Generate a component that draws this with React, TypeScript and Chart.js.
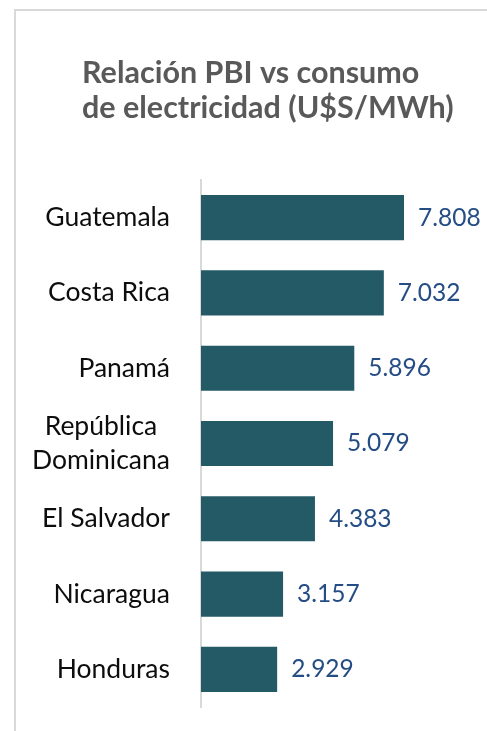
import { useEffect, useRef } from "react";
import { Chart, registerables } from "chart.js";
Chart.register(...registerables);

const titleLines = ["Relación PBI vs consumo", "de electricidad (U$S/MWh)"];
const categories: (string | string[])[] = [
  "Guatemala",
  "Costa Rica",
  "Panamá",
  ["República", "Dominicana"],
  "El Salvador",
  "Nicaragua",
  "Honduras",
];
const values = [7808, 7032, 5896, 5079, 4383, 3157, 2929];
const axisMax = 10000;

const fmt = (n: number) => n.toString().replace(/\B(?=(\d{3})+(?!\d))/g, ".");

const overlay = {
  id: "overlay",
  afterDraw(chart: any) {
    const ctx = chart.ctx as CanvasRenderingContext2D;
    ctx.save();
    ctx.font = "bold 30.5px Lato";
    ctx.fillStyle = "#595959";
    ctx.textAlign = "left";
    ctx.textBaseline = "alphabetic";
    titleLines.forEach((t, i) => ctx.fillText(t, 82, 83 + i * 35));

    const ys = chart.scales.y;
    ctx.font = "26.5px Lato";
    ctx.fillStyle = "#0d0d0d";
    ctx.textBaseline = "middle";
    ctx.textAlign = "center";
    categories.forEach((c, i) => {
      const lines = Array.isArray(c) ? c : [c];
      const w = Math.max(...lines.map((l) => ctx.measureText(l).width));
      const cx = chart.chartArea.left - 31 - w / 2;
      const yc = ys.getPixelForValue(i);
      lines.forEach((l, k) => ctx.fillText(l, cx, yc + (k - (lines.length - 1) / 2) * 34));
    });

    const meta = chart.getDatasetMeta(0);
    ctx.font = "24.5px Lato";
    ctx.fillStyle = "#254D85";
    ctx.textAlign = "left";
    meta.data.forEach((bar: any, i: number) => ctx.fillText(fmt(values[i]), bar.x + 14, bar.y));
    ctx.restore();
  },
};

export default function App() {
  const ref = useRef<HTMLCanvasElement>(null);
  useEffect(() => {
    if (!ref.current) return;
    const chart = new Chart(ref.current, {
      type: "bar",
      data: {
        labels: categories as any,
        datasets: [
          {
            data: values,
            backgroundColor: "#245A66",
            borderWidth: 0,
            barPercentage: 0.6,
            categoryPercentage: 1,
          },
        ],
      },
      options: {
        indexAxis: "y",
        animation: false,
        responsive: false,
        devicePixelRatio: 1,
        layout: { padding: { left: 201, top: 180, right: 26, bottom: 24 } },
        plugins: { legend: { display: false }, tooltip: { enabled: false }, title: { display: false } },
        scales: {
          x: { display: false, min: 0, max: axisMax },
          y: {
            grid: { display: false, drawTicks: false },
            border: { display: true, color: "#d9d9d9", width: 2 },
            ticks: { display: false },
          },
        },
      },
      plugins: [overlay],
    });
    return () => chart.destroy();
  }, []);
  return (
    <div style={{ position: "fixed", left: 0, top: 0, width: 487, height: 731, background: "#fff", overflow: "hidden" }}>
      <div
        style={{
          position: "absolute",
          left: 14,
          top: 9,
          width: 500,
          height: 760,
          borderLeft: "2px solid #d9d9d9",
          borderTop: "2px solid #d9d9d9",
        }}
      />
      <canvas ref={ref} width={487} height={731} style={{ position: "absolute", left: 0, top: 0, width: 487, height: 731 }} />
    </div>
  );
}
